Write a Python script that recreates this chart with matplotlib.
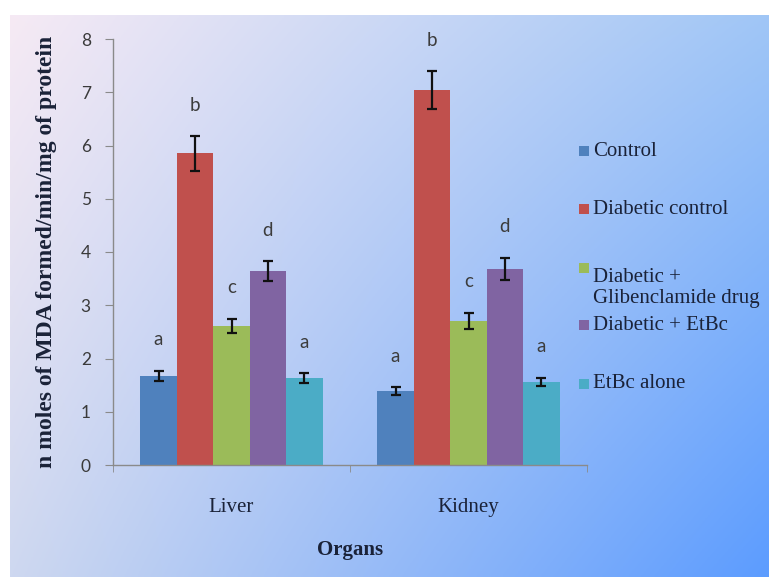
import numpy as np
import matplotlib
matplotlib.use("Agg")
import matplotlib.pyplot as plt
from matplotlib.patches import Rectangle

# ---- data ----
organs = ["Liver", "Kidney"]
groups = ["Control", "Diabetic control", "Diabetic +\nGlibenclamide drug",
          "Diabetic + EtBc", "EtBc alone"]
control = [1.67, 1.39]
diabetic_control = [5.85, 7.04]
diabetic_glib = [2.61, 2.71]
diabetic_etbc = [3.64, 3.68]
etbc_alone = [1.63, 1.56]
err_control = [0.10, 0.07]
err_diabetic_control = [0.32, 0.35]
err_diabetic_glib = [0.14, 0.15]
err_diabetic_etbc = [0.19, 0.21]
err_etbc_alone = [0.09, 0.08]
letters_control = ["a", "a"]
letters_diabetic_control = ["b", "b"]
letters_diabetic_glib = ["c", "c"]
letters_diabetic_etbc = ["d", "d"]
letters_etbc_alone = ["a", "a"]
yticks = [0, 1, 2, 3, 4, 5, 6, 7, 8]

values = [control, diabetic_control, diabetic_glib, diabetic_etbc, etbc_alone]
errors = [err_control, err_diabetic_control, err_diabetic_glib, err_diabetic_etbc, err_etbc_alone]
letters = [letters_control, letters_diabetic_control, letters_diabetic_glib,
           letters_diabetic_etbc, letters_etbc_alone]
colors = ["#4F81BD", "#C0504D", "#9BBB59", "#8064A2", "#4BACC6"]

W, H = 769, 577
fig = plt.figure(figsize=(W / 100, H / 100), dpi=100)
fig.patch.set_facecolor("white")

# ---- gradient background panel ----
bg = fig.add_axes([10 / W, 0, (W - 10) / W, (H - 15) / H])
bg.set_axis_off()
tl = np.array([246, 234, 244]) / 255
tr = np.array([160, 198, 246]) / 255
bl = np.array([206, 216, 240]) / 255
br = np.array([92, 156, 255]) / 255
ny, nx = 200, 260
u = np.linspace(0, 1, nx)[None, :, None]
v = np.linspace(0, 1, ny)[:, None, None]
grad = (1 - u) * (1 - v) * tl + u * (1 - v) * tr + (1 - u) * v * bl + u * v * br
bg.imshow(grad, aspect="auto", extent=[0, 1, 0, 1], origin="upper")
bg.set_xlim(0, 1)
bg.set_ylim(0, 1)

# ---- main axes ----
ax = fig.add_axes([113 / W, (H - 465) / H, 474 / W, (465 - 39) / H])
ax.patch.set_alpha(0)

x = np.arange(len(organs))
n = len(values)
bw = 0.154
for i in range(n):
    pos = x + (i - (n - 1) / 2) * bw
    ax.bar(pos, values[i], width=bw, color=colors[i], zorder=2)
    ax.errorbar(pos, values[i], yerr=errors[i], fmt="none", ecolor="#111111",
                elinewidth=1.6, capsize=3.5, capthick=1.6, zorder=3)
    for j in range(len(organs)):
        ax.text(pos[j], values[i][j] + errors[i][j] + 0.42, letters[i][j],
                ha="center", va="bottom", fontsize=13.5, family="Lato",
                color="#3c3c3c")

ax.set_xlim(-0.5, 1.5)
ax.set_ylim(0, 8)
ax.set_yticks(yticks)
ax.set_yticklabels([str(t) for t in yticks], family="Lato", fontsize=12.5,
                   color="#3a3a3a")
ax.tick_params(axis="y", direction="out", length=6, color="#8a8a8a", pad=10)

ax.set_xticks(x)
ax.set_xticklabels(organs, family="Liberation Serif", fontsize=15,
                   color="#1a2238")
ax.tick_params(axis="x", which="major", length=0, pad=24)
ax.set_xticks([-0.5, 0.5, 1.5], minor=True)
ax.tick_params(axis="x", which="minor", direction="out", length=5, color="#8a8a8a")

for s in ["top", "right"]:
    ax.spines[s].set_visible(False)
for s in ["left", "bottom"]:
    ax.spines[s].set_color("#8a8a8a")
    ax.spines[s].set_linewidth(1.0)

ax.set_ylabel("n moles of MDA formed/min/mg of protein", family="Liberation Serif",
              fontweight="bold", fontsize=17, color="#1a2238")
ax.yaxis.set_label_coords((57 - 113) / 474, 0.5)
ax.set_xlabel("Organs", family="Liberation Serif", fontweight="bold",
              fontsize=15, color="#1a2238")
ax.xaxis.set_label_coords(0.5, -(540 - 465) / 426)

# ---- legend (manual, Excel-like) ----
leg_y = [151, 209, 268, 325, 384]
for i, lab in enumerate(groups):
    yc = leg_y[i]
    fig.patches.append(Rectangle((579 / W, 1 - (yc + 5) / H), 10 / W, 10 / H,
                                 transform=fig.transFigure, facecolor=colors[i],
                                 edgecolor="none"))
    fig.text(593 / W, 1 - yc / H, lab, ha="left", va="top" if "\n" in lab else "center",
             family="Liberation Serif", fontsize=15, color="#1a2238",
             linespacing=1.15)

fig.savefig("out.png", dpi=100)
